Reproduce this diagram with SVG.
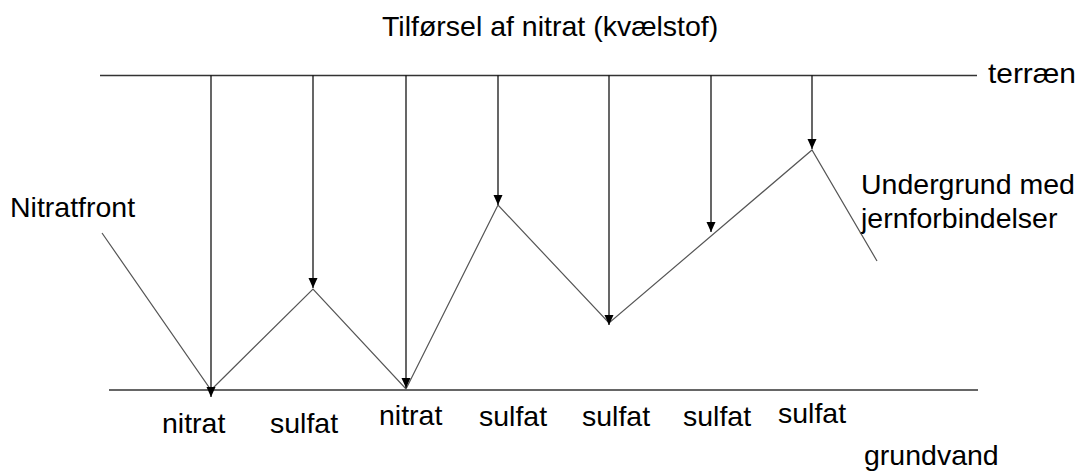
<svg xmlns="http://www.w3.org/2000/svg" width="1083" height="475" viewBox="0 0 1083 475">
<style>
text { font-family: "Liberation Sans", Arial, sans-serif; font-size: 28.5px; fill: #000; }
.axis { stroke: #333; stroke-width: 1.3; fill: none; }
.arrow { stroke: #000; stroke-width: 1.2; fill: none; marker-end: url(#ah); }
.front { stroke: #555; stroke-width: 1.2; fill: none; }
</style>
<defs>
<marker id="ah" markerUnits="userSpaceOnUse" markerWidth="10" markerHeight="10" refX="10" refY="5" orient="auto">
<path d="M0,0.5 L10,5 L0,9.5 z" fill="#000"/>
</marker>
</defs>
<rect width="1083" height="475" fill="#fff"/>
<g id="labels">
<text x="382" y="36">Tilførsel af nitrat (kvælstof)</text>
<text x="988" y="83" textLength="88" lengthAdjust="spacingAndGlyphs">terræn</text>
<text x="10" y="217">Nitratfront</text>
<text x="861" y="194">Undergrund med</text>
<text x="861" y="228">jernforbindelser</text>
<text x="864" y="465">grundvand</text>
<text x="162" y="433">nitrat</text>
<text x="270" y="433">sulfat</text>
<text x="379" y="425">nitrat</text>
<text x="479" y="426">sulfat</text>
<text x="582" y="426">sulfat</text>
<text x="683" y="426">sulfat</text>
<text x="778" y="423">sulfat</text>
</g>
<g id="terrain"><line class="axis" x1="100" y1="75.5" x2="977" y2="75.5"/></g>
<g id="groundwater"><line class="axis" x1="109" y1="390" x2="978" y2="390"/></g>
<g id="nitrate-front"><polyline class="front" points="102,233 211,390 313,289 406,389 498,205 609,323 812,150 877,261"/></g>
<g id="connectors">
<line class="arrow" x1="211" y1="75.5" x2="211" y2="397"/>
<line class="arrow" x1="313" y1="75.5" x2="313" y2="288"/>
<line class="arrow" x1="406" y1="75.5" x2="406" y2="388"/>
<line class="arrow" x1="498" y1="75.5" x2="498" y2="205"/>
<line class="arrow" x1="609" y1="75.5" x2="609" y2="325"/>
<line class="arrow" x1="711" y1="75.5" x2="711" y2="232"/>
<line class="arrow" x1="812" y1="75.5" x2="812" y2="149"/>
</g>
</svg>
